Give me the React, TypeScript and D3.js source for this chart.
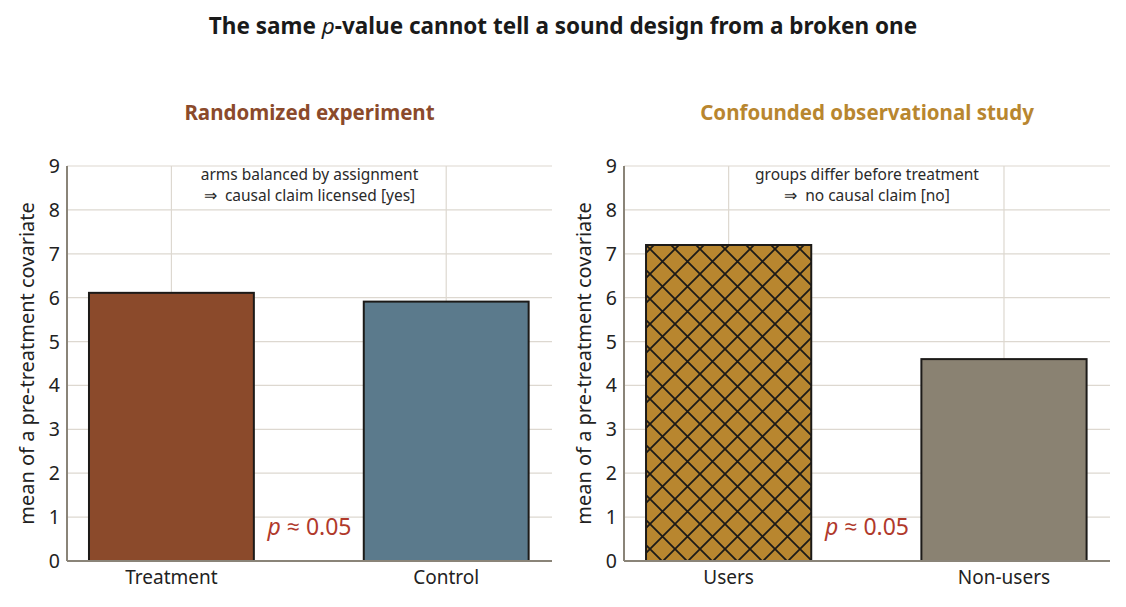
import React from 'react';
import * as d3 from 'd3';

// values
const leftCategories = ['Treatment', 'Control'];
const leftValues = [6.11, 5.91];
const leftColors = ['#8B4A2B', '#5B7A8C'];

const rightCategories = ['Users', 'Non-users'];
const rightValues = [7.2, 4.6];
const rightColors = ['#B8862F', '#8A8272'];

const yTicks = [0, 1, 2, 3, 4, 5, 6, 7, 8, 9];

const W = 1126;
const H = 607;
const FONT = "'Noto Sans', 'Open Sans', sans-serif";

interface PanelProps {
  x0: number;
  x1: number;
  title: string;
  titleColor: string;
  note: [string, string];
  categories: string[];
  values: number[];
  colors: string[];
  hatchFirst?: boolean;
}

const Panel: React.FC<PanelProps> = ({
  x0,
  x1,
  title,
  titleColor,
  note,
  categories,
  values,
  colors,
  hatchFirst,
}) => {
  const xScale = d3.scaleLinear().domain([-0.38, 1.385]).range([x0, x1]);
  const yScale = d3.scaleLinear().domain([0, 9]).range([561, 166]);
  const barW = xScale(0.3) - xScale(-0.3);
  const cx = (x0 + x1) / 2;

  return (
    <g>
      <text
        x={cx}
        y={120}
        textAnchor="middle"
        fontSize={20.5}
        fontWeight="bold"
        fill={titleColor}
      >
        {title}
      </text>

      {/* grid */}
      {yTicks
        .filter((t) => t > 0)
        .map((t) => (
          <line
            key={'h' + t}
            x1={x0}
            x2={x1}
            y1={yScale(t)}
            y2={yScale(t)}
            stroke="#DDD8D0"
            strokeWidth={1.2}
          />
        ))}
      {categories.map((_, i) => (
        <line
          key={'v' + i}
          x1={xScale(i)}
          x2={xScale(i)}
          y1={yScale(9)}
          y2={yScale(0)}
          stroke="#DDD8D0"
          strokeWidth={1.2}
        />
      ))}

      {/* note */}
      <text x={cx} y={180} textAnchor="middle" fontSize={15.5} fill="#2a2a2a">
        {note[0]}
      </text>
      <text x={cx} y={201} textAnchor="middle" fontSize={15.5} fill="#2a2a2a" xmlSpace="preserve">
        {note[1]}
      </text>

      {/* bars */}
      {values.map((v, i) => (
        <g key={'b' + i}>
          <rect
            x={xScale(i) - barW / 2}
            y={yScale(v)}
            width={barW}
            height={yScale(0) - yScale(v)}
            fill={colors[i]}
          />
          {hatchFirst && i === 0 && (
            <rect
              x={xScale(i) - barW / 2}
              y={yScale(v)}
              width={barW}
              height={yScale(0) - yScale(v)}
              fill="url(#xhatch)"
            />
          )}
          <rect
            x={xScale(i) - barW / 2}
            y={yScale(v)}
            width={barW}
            height={yScale(0) - yScale(v)}
            fill="none"
            stroke="#1c1a18"
            strokeWidth={2}
          />
        </g>
      ))}

      {/* p value */}
      <text
        x={cx}
        y={yScale(0.6)}
        textAnchor="middle"
        fontSize={23}
        fill="#B0392B"
      >
        <tspan fontStyle="italic">p</tspan>
        <tspan> ≈ 0.05</tspan>
      </text>

      {/* spines */}
      <line x1={x0} x2={x0} y1={yScale(9)} y2={yScale(0)} stroke="#8A8478" strokeWidth={2} />
      <line x1={x0} x2={x1} y1={yScale(0)} y2={yScale(0)} stroke="#8A8478" strokeWidth={2} />

      {/* y ticks */}
      {yTicks.map((t) => (
        <text
          key={'yt' + t}
          x={x0 - 7}
          y={yScale(t)}
          dy="0.36em"
          textAnchor="end"
          fontSize={19.5}
          fill="#222"
        >
          {t}
        </text>
      ))}
      <text
        transform={`translate(${x0 - 33},${(yScale(0) + yScale(9)) / 2}) rotate(-90)`}
        textAnchor="middle"
        fontSize={20}
        fill="#222"
      >
        mean of a pre-treatment covariate
      </text>

      {/* x labels */}
      {categories.map((c, i) => (
        <text
          key={'xl' + i}
          x={xScale(i)}
          y={584}
          textAnchor="middle"
          fontSize={19}
          fill="#222"
        >
          {c}
        </text>
      ))}
    </g>
  );
};

const App: React.FC = () => {
  return (
    <div style={{ position: 'absolute', left: 0, top: 0 }}>
      <svg width={W} height={H} fontFamily={FONT} style={{ display: 'block', background: '#fff' }}>
        <defs>
          <pattern id="xhatch" patternUnits="userSpaceOnUse" x={0} y={-1} width={25} height={25}>
            <path
              d="M0,0L25,25M25,0L0,25M-2,2L2,-2M23,27L27,23M-2,23L2,27M23,-2L27,2"
              stroke="#1c1a18"
              strokeWidth={1.8}
            />
          </pattern>
        </defs>
        <text x={W / 2} y={34} textAnchor="middle" fontSize={22.5} fontWeight="bold" fill="#1a1a1a">
          The same <tspan fontStyle="italic" fontWeight="normal">p</tspan>-value cannot tell a sound
          design from a broken one
        </text>
        <Panel
          x0={67}
          x1={552}
          title="Randomized experiment"
          titleColor="#8B4A2B"
          note={['arms balanced by assignment', '⇒  causal claim licensed [yes]']}
          categories={leftCategories}
          values={leftValues}
          colors={leftColors}
        />
        <Panel
          x0={624}
          x1={1110}
          title="Confounded observational study"
          titleColor="#B8862F"
          note={['groups differ before treatment', '⇒  no causal claim [no]']}
          categories={rightCategories}
          values={rightValues}
          colors={rightColors}
          hatchFirst
        />
      </svg>
    </div>
  );
};

export default App;
